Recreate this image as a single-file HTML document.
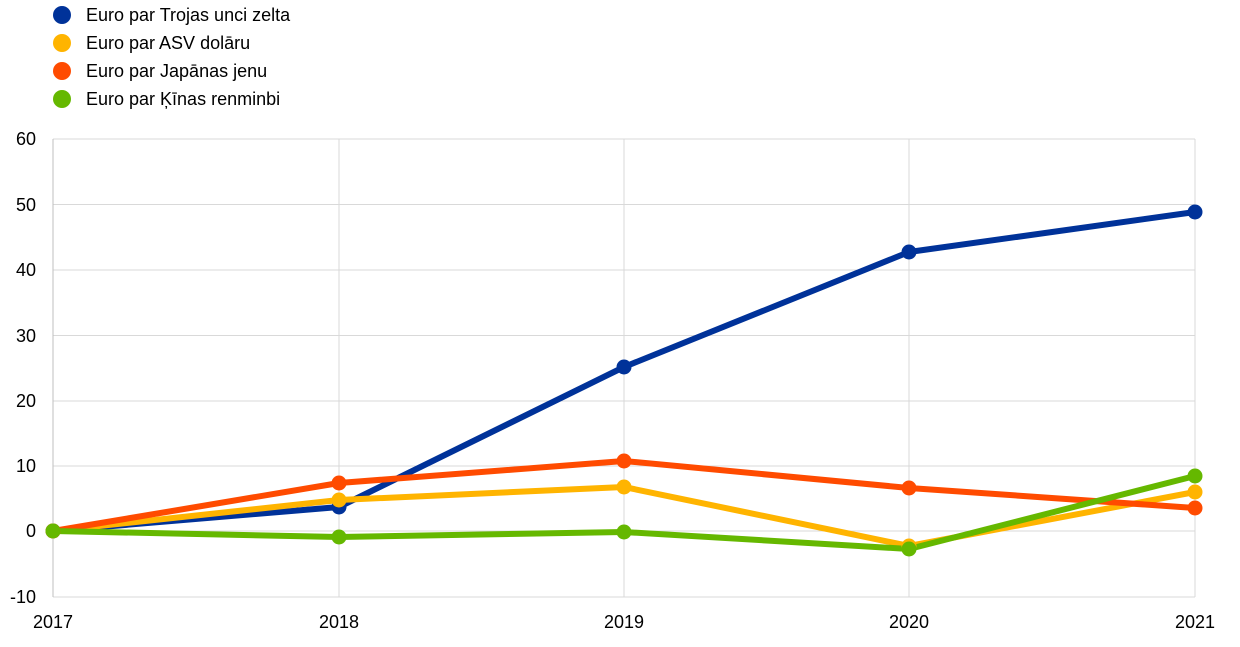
<!DOCTYPE html>
<html><head><meta charset="utf-8"><style>
body{margin:0;background:#fff;}
svg{display:block;font-family:"Liberation Sans",sans-serif;}
</style></head><body>
<svg width="1240" height="647" viewBox="0 0 1240 647">
<g stroke="#d9d9d9" stroke-width="1">
<line x1="53" y1="139" x2="1195" y2="139"/>
<line x1="53" y1="204.5" x2="1195" y2="204.5"/>
<line x1="53" y1="270" x2="1195" y2="270"/>
<line x1="53" y1="335.5" x2="1195" y2="335.5"/>
<line x1="53" y1="401" x2="1195" y2="401"/>
<line x1="53" y1="466" x2="1195" y2="466"/>
<line x1="53" y1="531" x2="1195" y2="531"/>
<line x1="53" y1="597" x2="1195" y2="597"/>
<line x1="339" y1="139" x2="339" y2="597"/>
<line x1="624" y1="139" x2="624" y2="597"/>
<line x1="909" y1="139" x2="909" y2="597"/>
<line x1="1195" y1="139" x2="1195" y2="597"/>
<line x1="53" y1="139" x2="53" y2="597" stroke="#bfbfbf"/>
</g>
<g font-size="18" fill="#000" text-anchor="end">
<text x="36" y="145">60</text><text x="36" y="211">50</text><text x="36" y="276">40</text>
<text x="36" y="342">30</text><text x="36" y="407">20</text><text x="36" y="472">10</text>
<text x="36" y="537">0</text><text x="36" y="603">-10</text>
</g>
<g font-size="18" fill="#000" text-anchor="middle">
<text x="53" y="628">2017</text><text x="339" y="628">2018</text><text x="624" y="628">2019</text>
<text x="909" y="628">2020</text><text x="1195" y="628">2021</text>
</g>
<g stroke-width="6" fill="none" stroke-linejoin="round">
<polyline stroke="#003299" points="53,531 339,507 624,367 909,252 1195,212"/>
<polyline stroke="#ffb400" points="53,531 339,500 624,487 909,546 1195,492"/>
<polyline stroke="#ff4b00" points="53,531 339,483 624,461 909,488 1195,508"/>
<polyline stroke="#65b800" points="53,531 339,537 624,532 909,549 1195,476"/>
</g>
<g fill="#003299"><circle cx="53" cy="531" r="7.5"/><circle cx="339" cy="507" r="7.5"/><circle cx="624" cy="367" r="7.5"/><circle cx="909" cy="252" r="7.5"/><circle cx="1195" cy="212" r="7.5"/></g>
<g fill="#ffb400"><circle cx="53" cy="531" r="7.5"/><circle cx="339" cy="500" r="7.5"/><circle cx="624" cy="487" r="7.5"/><circle cx="909" cy="546" r="7.5"/><circle cx="1195" cy="492" r="7.5"/></g>
<g fill="#ff4b00"><circle cx="53" cy="531" r="7.5"/><circle cx="339" cy="483" r="7.5"/><circle cx="624" cy="461" r="7.5"/><circle cx="909" cy="488" r="7.5"/><circle cx="1195" cy="508" r="7.5"/></g>
<g fill="#65b800"><circle cx="53" cy="531" r="7.5"/><circle cx="339" cy="537" r="7.5"/><circle cx="624" cy="532" r="7.5"/><circle cx="909" cy="549" r="7.5"/><circle cx="1195" cy="476" r="7.5"/></g>
<circle cx="62" cy="15" r="9" fill="#003299"/>
<circle cx="62" cy="43" r="9" fill="#ffb400"/>
<circle cx="62" cy="71" r="9" fill="#ff4b00"/>
<circle cx="62" cy="99" r="9" fill="#65b800"/>
<g font-size="18" fill="#000">
<text x="86" y="21">Euro par Trojas unci zelta</text>
<text x="86" y="49">Euro par ASV dolāru</text>
<text x="86" y="77">Euro par Japānas jenu</text>
<text x="86" y="105">Euro par Ķīnas renminbi</text>
</g>
</svg>
</body></html>
